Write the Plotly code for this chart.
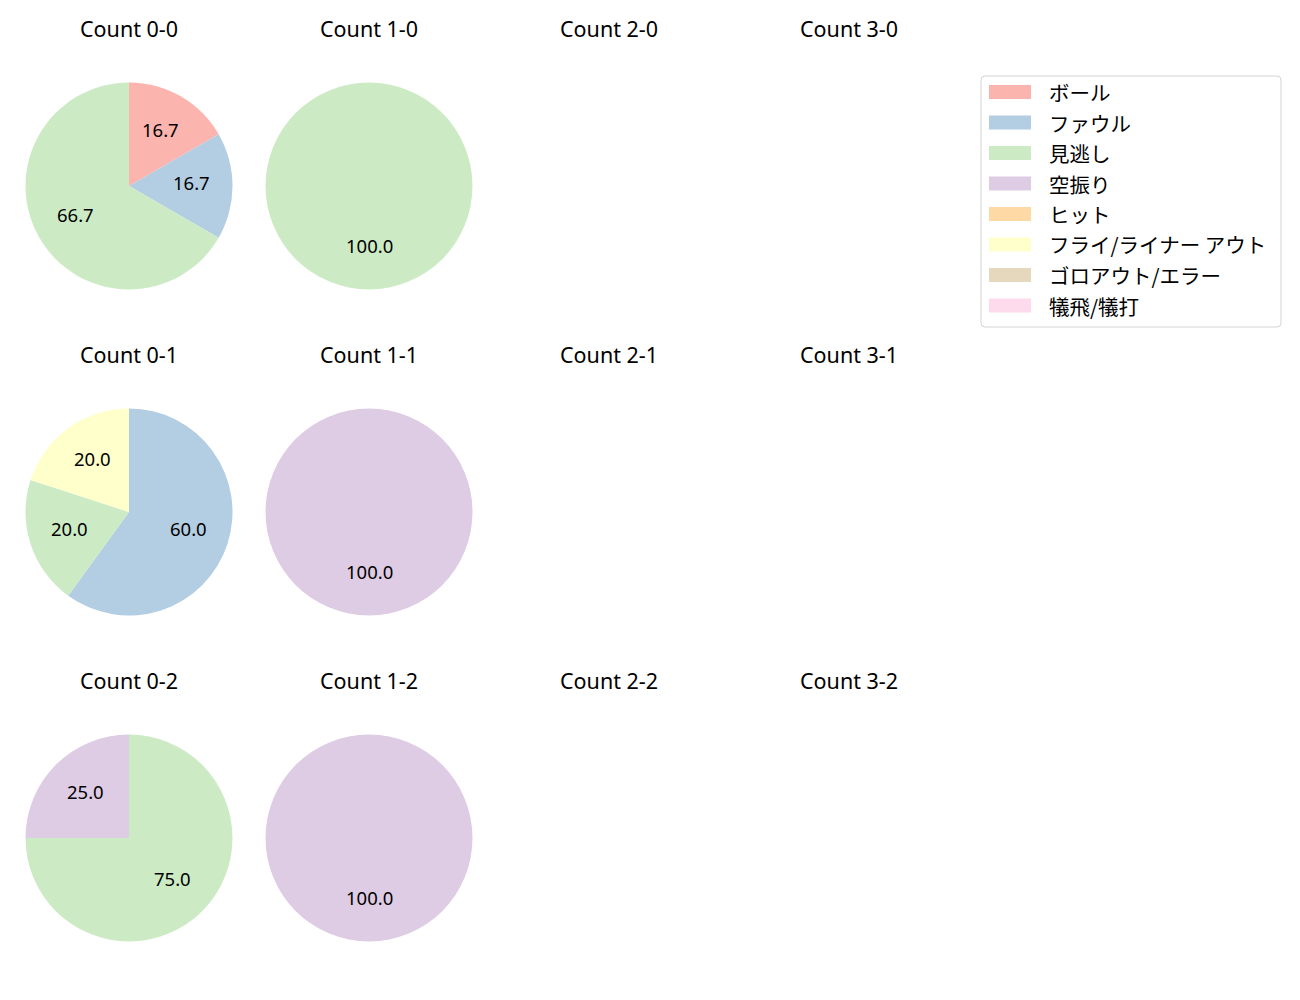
import math
import plotly.graph_objects as go

W, H = 1300, 1000

labels = ["ボール", "ファウル", "見逃し", "空振り", "ヒット",
          "フライ/ライナー アウト", "ゴロアウト/エラー", "犠飛/犠打"]
colors = ["#fbb4ae", "#b3cde3", "#ccebc5", "#decbe4",
          "#fed9a6", "#ffffcc", "#e5d8bd", "#fddaec"]

balls = [0, 1, 2, 3]
strikes = [0, 1, 2]

# pitch result counts per count (order follows labels)
count_0_0 = [1, 1, 4, 0, 0, 0, 0, 0]
count_1_0 = [0, 0, 1, 0, 0, 0, 0, 0]
count_0_1 = [0, 3, 1, 0, 0, 1, 0, 0]
count_1_1 = [0, 0, 0, 1, 0, 0, 0, 0]
count_0_2 = [0, 0, 3, 1, 0, 0, 0, 0]
count_1_2 = [0, 0, 0, 1, 0, 0, 0, 0]

data = {
    (0, 0): count_0_0, (1, 0): count_1_0,
    (0, 1): count_0_1, (1, 1): count_1_1,
    (0, 2): count_0_2, (1, 2): count_1_2,
}

# layout geometry (pixels)
col_x0, col_dx = 129, 240
row_y0, row_dy = 186, 326
R = 103.5
title_off = 158

LATIN = "Noto Sans, Noto Sans CJK JP"
CJK = "Noto Sans CJK JP"

fig = go.Figure()
annotations = []

for s in strikes:
    for b in balls:
        cx = col_x0 + b * col_dx
        cy = row_y0 + s * row_dy
        annotations.append(dict(
            x=cx / W, y=1 - (cy - title_off) / H, xref="paper", yref="paper",
            text=f"Count {b}-{s}", showarrow=False,
            font=dict(family=LATIN, size=21.5, color="#000"),
            xanchor="center", yanchor="middle"))
        if (b, s) not in data:
            continue
        vals = data[(b, s)]
        idx = [i for i, v in enumerate(vals) if v > 0]
        lab = [labels[i] for i in idx]
        v = [vals[i] for i in idx]
        col = [colors[i] for i in idx]
        fig.add_trace(go.Pie(
            labels=lab, values=v, sort=False, direction="clockwise",
            rotation=0, textinfo="none", hoverinfo="label+percent",
            marker=dict(colors=col, line=dict(width=0)),
            showlegend=False,
            domain=dict(x=[(cx - R) / W, (cx + R) / W],
                        y=[1 - (cy + R) / H, 1 - (cy - R) / H]),
        ))
        total = sum(v)
        cum = 0
        for val in v:
            mid = (cum + val / 2) / total * 2 * math.pi
            cum += val
            tx = cx + 0.6 * R * math.sin(mid)
            ty = cy - 0.6 * R * math.cos(mid)
            annotations.append(dict(
                x=tx / W, y=1 - ty / H, xref="paper", yref="paper",
                text=f"{100 * val / total:.1f}", showarrow=False, yshift=3,
                font=dict(family=LATIN, size=18.5, color="#000"),
                xanchor="center", yanchor="middle"))

# manual legend (rounded frame)
shapes = []
lx0, ly0, lx1, ly1 = 981, 76, 1281, 327
rr = 4


def px(x):
    return x / W


def py(y):
    return 1 - y / H


path = (f"M {px(lx0 + rr)},{py(ly0)} L {px(lx1 - rr)},{py(ly0)} "
        f"Q {px(lx1)},{py(ly0)} {px(lx1)},{py(ly0 + rr)} "
        f"L {px(lx1)},{py(ly1 - rr)} Q {px(lx1)},{py(ly1)} {px(lx1 - rr)},{py(ly1)} "
        f"L {px(lx0 + rr)},{py(ly1)} Q {px(lx0)},{py(ly1)} {px(lx0)},{py(ly1 - rr)} "
        f"L {px(lx0)},{py(ly0 + rr)} Q {px(lx0)},{py(ly0)} {px(lx0 + rr)},{py(ly0)} Z")
shapes.append(dict(type="path", xref="paper", yref="paper", path=path,
                   line=dict(color="#d3d3d3", width=1),
                   fillcolor="rgba(255,255,255,0.8)", layer="above"))
item_y0, item_dy = 92, 30.5
for i, (lab, c) in enumerate(zip(labels, colors)):
    yy = item_y0 + i * item_dy
    shapes.append(dict(type="rect", xref="paper", yref="paper",
                       x0=px(989), x1=px(1031), y0=py(yy + 7), y1=py(yy - 7),
                       line=dict(width=0), fillcolor=c, layer="above"))
    annotations.append(dict(
        x=px(1047), y=py(yy), xref="paper", yref="paper",
        text=lab, showarrow=False, xanchor="left", yanchor="middle",
        font=dict(family=CJK, size=20.5, color="#000")))

fig.update_layout(
    width=W, height=H, autosize=False,
    margin=dict(l=0, r=0, t=0, b=0),
    paper_bgcolor="white", plot_bgcolor="white",
    annotations=annotations, shapes=shapes,
    font=dict(family=LATIN),
)

fig.write_html("out.html")
